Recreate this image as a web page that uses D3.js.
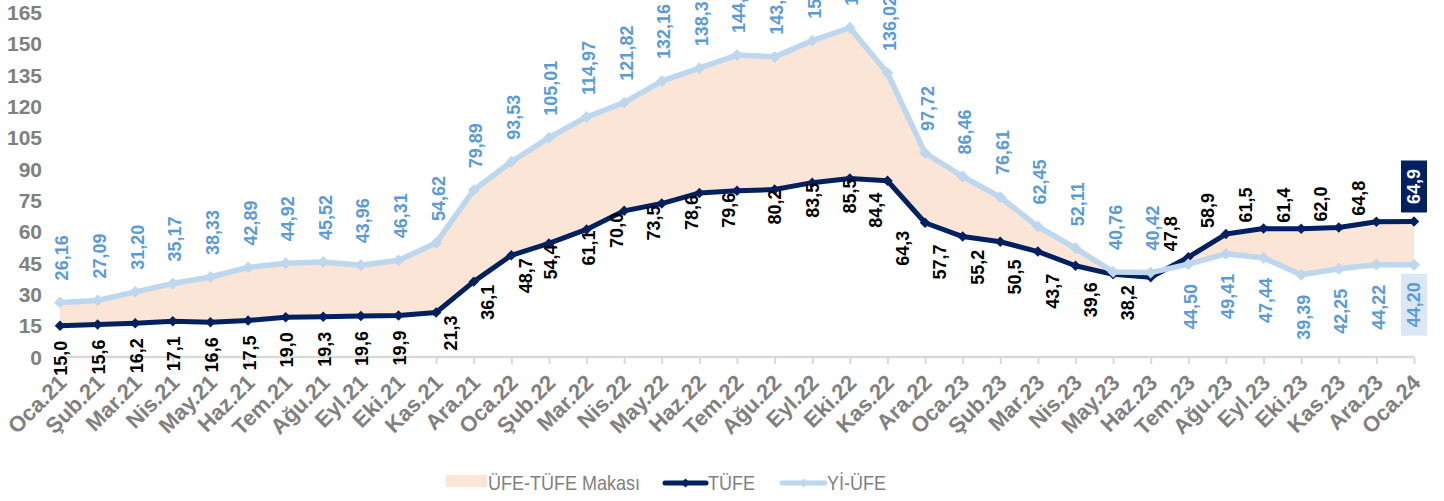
<!DOCTYPE html>
<html>
<head>
<meta charset="utf-8">
<script src="https://cdn.jsdelivr.net/npm/d3@7"></script>
<style>
  body { margin: 0; background: #fff; }
  svg { display: block; font-family: "Liberation Sans", Arial, sans-serif; }
</style>
</head>
<body>
<svg id="chart"></svg>
<script>
// months on the x axis
const months = ["Oca.21","Şub.21","Mar.21","Nis.21","May.21","Haz.21","Tem.21","Ağu.21","Eyl.21","Eki.21","Kas.21","Ara.21",
  "Oca.22","Şub.22","Mar.22","Nis.22","May.22","Haz.22","Tem.22","Ağu.22","Eyl.22","Eki.22","Kas.22","Ara.22",
  "Oca.23","Şub.23","Mar.23","Nis.23","May.23","Haz.23","Tem.23","Ağu.23","Eyl.23","Eki.23","Kas.23","Ara.23","Oca.24"];

const tufe = [15.0,15.6,16.2,17.1,16.6,17.5,19.0,19.3,19.6,19.9,21.3,36.1,
  48.7,54.4,61.1,70.0,73.5,78.6,79.6,80.2,83.5,85.5,84.4,64.3,
  57.7,55.2,50.5,43.7,39.6,38.2,47.8,58.9,61.5,61.4,62.0,64.8,64.9];

const yiufe = [26.16,27.09,31.20,35.17,38.33,42.89,44.92,45.52,43.96,46.31,54.62,79.89,
  93.53,105.01,114.97,121.82,132.16,138.31,144.61,143.75,151.50,157.69,136.02,97.72,
  86.46,76.61,62.45,52.11,40.76,40.42,44.50,49.41,47.44,39.39,42.25,44.22,44.20];

const yTickValues = [0,15,30,45,60,75,90,105,120,135,150,165];

const seriesNames = ["ÜFE-TÜFE Makası", "TÜFE", "Yİ-ÜFE"];

const svgWidth = 1444, svgHeight = 501;
const navy = "#002060", light = "#BDD7EE", peach = "#FBE5D6",
      labelBlue = "#5B9BD5", gray = "#808080";

const tr = d3.formatLocale({decimal: ",", thousands: ".", grouping: [3], currency: ["", ""]});
const f1 = tr.format(".1f"), f2 = tr.format(".2f");

const chart = d3.select("#chart")
    .attr("width", svgWidth)
    .attr("height", svgHeight);

var xScale = d3.scalePoint().domain(months).range([60, 1414]);
var yScale = d3.scaleLinear().domain([0, 165]).range([357, 12.5]);

const rows = months.map((m, i) => ({month: m, i: i, tufe: tufe[i], yiufe: yiufe[i]}));
const last = rows.length - 1;

// y axis labels (no line)
chart.append("g").selectAll("text")
    .data(yTickValues)
    .enter()
    .append("text")
    .attr("x", 42)
    .attr("y", d => yScale(d))
    .attr("dy", "0.36em")
    .attr("text-anchor", "end")
    .style("font-size", "21px")
    .style("font-weight", "bold")
    .style("fill", gray)
    .text(d => d);

// gap area between the two series
var gapArea = d3.area()
    .x(d => xScale(d.month))
    .y0(d => yScale(d.tufe))
    .y1(d => yScale(d.yiufe));

chart.append("path")
    .datum(rows)
    .attr("d", gapArea)
    .style("fill", peach);

// x axis
var xAxis = d3.axisBottom(xScale).tickSize(7).tickFormat("");
const axisG = chart.append("g")
    .attr("transform", "translate(0," + yScale(0) + ")")
    .call(xAxis);
axisG.select(".domain").attr("d", "M" + xScale(months[0]) + ",0H" + xScale(months[last]))
    .style("stroke", "#D9D9D9").attr("stroke-width", 2.5);
axisG.selectAll(".tick line").style("stroke", "#D9D9D9").attr("stroke-width", 2);

chart.append("g").selectAll("text")
    .data(months)
    .enter()
    .append("text")
    .attr("transform", d => "translate(" + (xScale(d) + 8) + "," + (yScale(0) + 27) + ") rotate(-45)")
    .attr("text-anchor", "end")
    .style("font-size", "22px")
    .style("font-weight", "bold")
    .style("fill", gray)
    .text(d => d);

// lines
function drawSeries(key, color, width, markerSize) {
    var line = d3.line()
        .x(d => xScale(d.month))
        .y(d => yScale(d[key]));
    chart.append("path")
        .datum(rows)
        .attr("d", line)
        .style("fill", "none")
        .style("stroke", color)
        .attr("stroke-width", width)
        .attr("stroke-linejoin", "round");
    chart.append("g").selectAll("path")
        .data(rows)
        .enter()
        .append("path")
        .attr("d", d3.symbol(d3.symbolSquare, markerSize))
        .attr("transform", d => "translate(" + xScale(d.month) + "," + yScale(d[key]) + ") rotate(45)")
        .style("fill", color);
}
drawSeries("tufe", navy, 5, 55);
drawSeries("yiufe", light, 5.5, 70);

// label placement for TÜFE (hand tuned like the source)
function tufePlace(i) {
    if (i >= 30) return {dx: -18, gap: 6, above: true};
    if (i >= 23) return {dx: -23, gap: 8, above: false};
    if (i <= 9) return {dx: 1, gap: 15, above: false};
    if (i <= 12) return {dx: 14, gap: 3, above: false};
    if (i === 22) return {dx: -12, gap: 12, above: false};
    if (i <= 14) return {dx: 2, gap: 1, above: false};
    if (i <= 18) return {dx: -8, gap: 2, above: false};
    return {dx: 0, gap: 0, above: false};
}

function vLabel(g, x, y, above, txt, color) {
    return g.append("text")
        .attr("transform", "translate(" + x + "," + y + ") rotate(-90)")
        .attr("text-anchor", above ? "start" : "end")
        .attr("dy", "0.36em")
        .style("font-size", "18px")
        .style("font-weight", "bold")
        .style("fill", color)
        .text(txt);
}

const labels = chart.append("g");
rows.forEach(d => {
    if (d.i === last) return;
    const p = tufePlace(d.i);
    const x = xScale(d.month) + p.dx, y = yScale(d.tufe);
    vLabel(labels, x, p.above ? y - p.gap : y + p.gap, p.above, f1(d.tufe), "#000");

    const up = d.i < 30;
    const yy = yScale(d.yiufe);
    vLabel(labels, xScale(d.month) + 2, up ? yy - 22 : yy + 20, up, f2(d.yiufe), labelBlue);
});

// highlighted last values
const lastRow = rows[last];
const lx = xScale(lastRow.month);
labels.append("rect")
    .attr("x", lx - 13).attr("y", yScale(lastRow.tufe) - 61)
    .attr("width", 26).attr("height", 52)
    .style("fill", navy);
vLabel(labels, lx, yScale(lastRow.tufe) - 35, true, f1(lastRow.tufe), "#fff").attr("text-anchor", "middle");
labels.append("rect")
    .attr("x", lx - 13).attr("y", yScale(lastRow.yiufe) + 9)
    .attr("width", 26).attr("height", 62)
    .style("fill", "#DAE8F6");
vLabel(labels, lx, yScale(lastRow.yiufe) + 40, false, f2(lastRow.yiufe), labelBlue).attr("text-anchor", "middle");

// legend
const legend = chart.append("g").attr("transform", "translate(0,483)");
legend.append("rect").attr("x", 446).attr("y", -8).attr("width", 41).attr("height", 12).style("fill", peach);
legend.append("line").attr("x1", 665).attr("x2", 706).attr("y1", 0).attr("y2", 0)
    .style("stroke", navy).attr("stroke-width", 5).attr("stroke-linecap", "round");
legend.append("path").attr("d", d3.symbol(d3.symbolSquare, 40))
    .attr("transform", "translate(685.5,0) rotate(45)").style("fill", navy);
legend.append("line").attr("x1", 782).attr("x2", 825).attr("y1", 0).attr("y2", 0)
    .style("stroke", light).attr("stroke-width", 5).attr("stroke-linecap", "round");
legend.append("path").attr("d", d3.symbol(d3.symbolSquare, 40))
    .attr("transform", "translate(803.5,0) rotate(45)").style("fill", light);

// narrow-looking legend text, like the source
const legendX = [488, 708, 827];
legend.selectAll("text.lg")
    .data(seriesNames)
    .enter()
    .append("text")
    .attr("class", "lg")
    .attr("transform", (d, i) => "translate(" + legendX[i] + ",0) scale(0.9,1)")
    .attr("dy", "0.36em")
    .style("font-size", "20px")
    .style("fill", gray)
    .text(d => d);
</script>
</body>
</html>
